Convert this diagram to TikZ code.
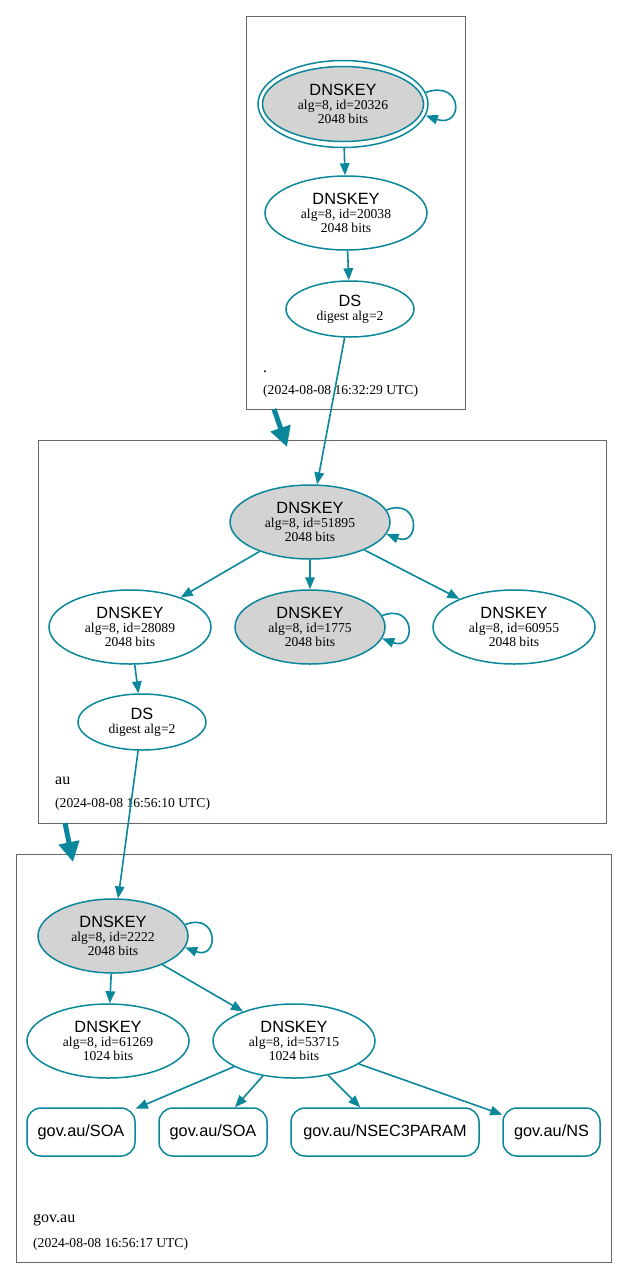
\documentclass[tikz,border=0pt]{standalone}
\usepackage{fontspec}
\setmainfont{Liberation Serif}
\newfontfamily\lsans{Liberation Sans}
\usetikzlibrary{arrows.meta,shapes.geometric}
\definecolor{teal1}{HTML}{0A879A}
\definecolor{keygray}{HTML}{D3D3D3}
\definecolor{clus}{HTML}{666666}
\newcommand{\keylab}[2]{{\lsans\fontsize{16.3}{16}\selectfont DNSKEY}\\alg=8, id=#1\\#2 bits}
\newcommand{\dslab}{{\lsans\fontsize{16.3}{16}\selectfont DS}\\digest alg=2}
\tikzset{
  key/.style={ellipse, draw=teal1, line width=1.5pt, inner sep=0pt, align=center,
    font=\fontsize{13.6}{14}\selectfont, minimum width=162pt, minimum height=74pt},
  ksk/.style={key, fill=keygray},
  dsnode/.style={key, minimum width=128pt, minimum height=56pt},
  rrset/.style={rectangle, rounded corners=14pt, draw=teal1, line width=1.5pt,
    minimum height=48pt, inner sep=0pt, font=\lsans\fontsize{16.3}{16}\selectfont},
  edge/.style={draw=teal1, line width=1.6pt, -{Triangle[length=12pt,width=9.5pt]}},
  deleg/.style={draw=teal1, line width=5pt, -{Triangle[length=20pt,width=20pt]}},
  cluster/.style={draw=clus, line width=0.9pt},
  zlabel/.style={anchor=base west, inner sep=0pt, font=\fontsize{16}{16}\selectfont},
  ztime/.style={anchor=base west, inner sep=0pt, font=\fontsize{13.6}{14}\selectfont}
}
\begin{document}
\begin{tikzpicture}[x=1pt,y=-1pt]
\useasboundingbox[fill=white] (0,0) rectangle (628,1278);
% clusters
\draw[cluster] (246,16) rectangle (465,409);
\draw[cluster] (38,440) rectangle (606,823);
\draw[cluster] (16,854) rectangle (611,1262);
\node[zlabel] (lroot) at (263,372) {.};
\node[ztime] (troot) at (263,394) {(2024-08-08 16:32:29 UTC)};
\node[zlabel] (lau) at (55,784) {au};
\node[ztime] (tau) at (55,807) {(2024-08-08 16:56:10 UTC)};
\node[zlabel] (lgov) at (33,1222) {gov.au};
\node[ztime] (tgov) at (33,1247) {(2024-08-08 16:56:17 UTC)};
% root zone
\node[ellipse, draw=teal1, line width=1.5pt, minimum width=170pt, minimum height=87pt] (k20326o) at (343,104) {};
\node[ksk, minimum width=161pt, minimum height=75pt] (k20326) at (343,104) {\keylab{20326}{2048}};
\node[key] (k20038) at (346,213) {\keylab{20038}{2048}};
\node[dsnode] (dsroot) at (350,309) {\dslab};
% au zone
\node[ksk, minimum width=160pt] (k51895) at (310,522) {\keylab{51895}{2048}};
\node[key] (k28089) at (130,627) {\keylab{28089}{2048}};
\node[ksk, minimum width=150pt] (k1775) at (310,627) {\keylab{1775}{2048}};
\node[key] (k60955) at (514,627) {\keylab{60955}{2048}};
\node[dsnode] (dsau) at (142,722) {\dslab};
% gov.au zone
\node[ksk, minimum width=150pt] (k2222) at (113,936) {\keylab{2222}{2048}};
\node[key] (k61269) at (108,1041) {\keylab{61269}{1024}};
\node[key] (k53715) at (294,1041) {\keylab{53715}{1024}};
\node[rrset, minimum width=108pt] (soa1) at (81,1132) {gov.au/SOA};
\node[rrset, minimum width=108pt] (soa2) at (213,1132) {gov.au/SOA};
\node[rrset, minimum width=188pt] (nsec) at (385,1132) {gov.au/NSEC3PARAM};
\node[rrset, minimum width=97pt] (ns) at (551.5,1132) {gov.au/NS};
% edges
\draw[edge] (k20326o) -- (k20038);
\draw[edge] (k20038) -- (dsroot);
\draw[edge] (dsroot) -- (k51895);
\draw[edge] (k51895) -- (k28089);
\draw[edge] (k51895) -- (k1775);
\draw[edge] (k51895) -- (k60955);
\draw[edge] (k28089) -- (dsau);
\draw[edge] (dsau) -- (k2222);
\draw[edge] (k2222) -- (k61269);
\draw[edge] (k2222) -- (k53715);
\draw[edge] (k53715) -- (soa1);
\draw[edge] (k53715) -- (soa2);
\draw[edge] (k53715) -- (nsec);
\draw[edge] (k53715) -- (ns);
% self loops
\draw[edge] (k20326o.8) .. controls +(38,-13) and +(38,13) .. (k20326o.-8);
\draw[edge] (k51895.9) .. controls +(34,-13) and +(34,13) .. (k51895.-9);
\draw[edge] (k1775.9) .. controls +(34,-13) and +(34,13) .. (k1775.-9);
\draw[edge] (k2222.9) .. controls +(34,-13) and +(34,13) .. (k2222.-9);
% delegation arrows
\coordinate (d1s) at (274,409);
\coordinate (d1e) at (287,447);
\coordinate (d2s) at (65,823);
\coordinate (d2e) at (73,862);
\draw[deleg] (d1s) -- (d1e);
\draw[deleg] (d2s) -- (d2e);
\end{tikzpicture}
\end{document}
